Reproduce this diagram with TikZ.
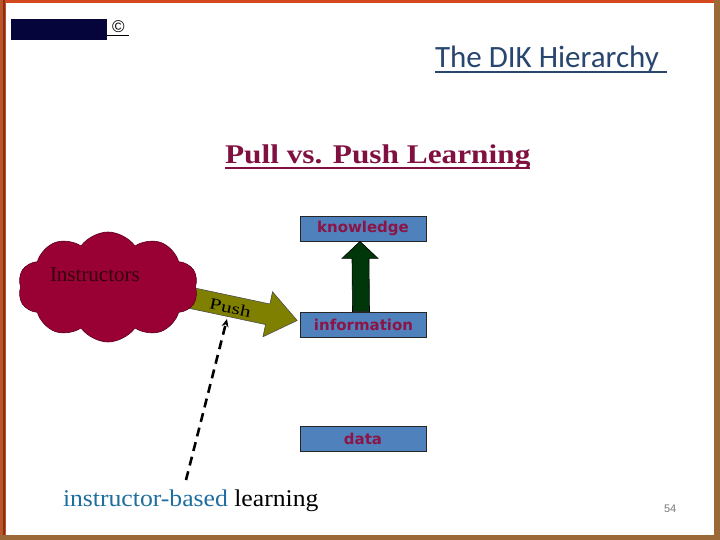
\documentclass[tikz,border=0pt]{standalone}
\usepackage{fontspec}
\setmainfont{Liberation Serif}
\newfontfamily\titlefont{Carlito}
\newfontfamily\boxfont{DejaVu Sans}
\newfontfamily\numfont{Liberation Sans}
\newfontfamily\pullfont{Liberation Serif}[FakeStretch=1.16]
\newfontfamily\ibfont{Liberation Serif}[FakeStretch=1.07]
\newfontfamily\pushfont{Liberation Serif}[FakeStretch=1.35]
\usetikzlibrary{shapes.symbols,arrows.meta,calc}
\definecolor{leftband}{RGB}{182,88,42}
\definecolor{leftline}{RGB}{150,40,20}
\definecolor{topband}{RGB}{212,72,30}
\definecolor{rbband}{RGB}{155,105,55}
\definecolor{navybox}{RGB}{5,5,60}
\definecolor{titleblue}{RGB}{40,70,110}
\definecolor{pullred}{RGB}{128,16,64}
\definecolor{boxblue}{RGB}{79,129,189}
\definecolor{boxtext}{RGB}{140,20,70}
\definecolor{greenarr}{RGB}{0,55,10}
\definecolor{olivearr}{RGB}{128,128,0}
\definecolor{cloudred}{RGB}{153,0,51}
\definecolor{instrtext}{RGB}{50,0,15}
\definecolor{ibblue}{RGB}{31,110,160}
\definecolor{numgray}{RGB}{120,120,120}
\tikzset{
  dikbox/.style={draw=black!85, line width=0.8pt, fill=boxblue, minimum width=126pt, minimum height=25pt, inner sep=0pt,
    font=\boxfont\bfseries\fontsize{15}{17}\selectfont, text=boxtext},
  plain/.style={inner sep=0pt, outer sep=0pt},
}
\begin{document}
\begin{tikzpicture}[x=1pt,y=-1pt]
\useasboundingbox (0,0) rectangle (720,540);
% frame
\fill[white] (0,0) rectangle (720,540);
\fill[topband] (0,0) rectangle (714,3);
\fill[rbband] (714,0) rectangle (720,540);
\fill[rbband] (0,535) rectangle (720,540);
\fill[leftband] (0,0) rectangle (6,535);
\fill[leftline] (3,0) rectangle (4.5,535);

% logo block
\node[plain, fill=navybox, minimum width=96pt, minimum height=21pt] (logo) at (59,29.5) {};
\node[plain, anchor=base west, font=\numfont\fontsize{17}{19}\selectfont] (copy) at (112,33) {©};
\draw[line width=1.3pt] (logo.east |- 0,35.5) -- ($(copy.east |- 0,35.5)+(4,0)$);

% title
\node[plain, anchor=base west, text=titleblue, font=\titlefont\fontsize{31}{36}\selectfont] (title) at (435,68) {The DIK Hierarchy};
\draw[titleblue, line width=2pt] ($(title.base west)+(0,4)$) -- ($(title.base east)+(8,4)$);

% subtitle
\node[plain, anchor=base west, text=pullred, font=\pullfont\bfseries\fontsize{27}{30}\selectfont] (pull) at (225,164) {Pull vs. Push Learning};
\draw[pullred, line width=2pt] ($(pull.base west)+(0,4)$) -- ($(pull.base east)+(0,4)$);

% boxes
\node[dikbox] (know) at (363,228.5) {knowledge};
\node[dikbox] (info) at (363.5,324.5) {information};
\node[dikbox] (data) at (363,438.5) {data};

% green arrow information -> knowledge
\filldraw[fill=greenarr, draw=black, line width=0.6pt]
  ($(info.north)+(-11,0)$) -- ($(know.south)+(-11,17)$) -- ($(know.south)+(-21,17)$) --
  ($(know.south)+(-3,0)$) -- ($(know.south)+(15,17)$) -- ($(know.south)+(6,17)$) --
  ($(info.north)+(6,0)$) -- cycle;

% push arrow
\coordinate (pushtip) at ($(info.west)+(-3,-4)$);
\begin{scope}[shift={(pushtip)}, rotate=-12]
  \filldraw[fill=olivearr, draw=black!70, line width=0.6pt]
    (0,0) -- (-30,-23) -- (-30,-10.5) -- (-135,-10.5) -- (-135,10.5) -- (-30,10.5) -- (-30,23) -- cycle;
  \coordinate (pushlblpos) at (-68,1.5);
\end{scope}
\node[plain, text=black, font=\pushfont\fontsize{16}{18}\selectfont, rotate=-12] (pushlbl) at (pushlblpos) {Push};

% dashed arrow
\coordinate (dashstart) at (186,480);
\coordinate (dashend) at (227,319);
\draw[line width=2.6pt, dash pattern=on 9pt off 6pt, -{Stealth[length=8pt,width=7pt]}] (dashstart) -- (dashend);

% cloud
\node[cloud, cloud puffs=10, cloud puff arc=110, cloud ignores aspect, minimum width=180pt, minimum height=110pt,
      fill=cloudred, draw=cloudred!60!black, line width=0.6pt, inner sep=0pt] (instr) at (108,287) {};
\node[plain, anchor=base west, text=instrtext, font=\fontsize{21}{24}\selectfont] (instrlbl) at (50,281) {Instructors};

% bottom label
\node[plain, anchor=base west, font=\ibfont\fontsize{24}{28}\selectfont] (iblbl) at (63,506) {\textcolor{ibblue}{instructor-based} learning};

% page number
\node[plain, anchor=base west, text=numgray, font=\numfont\fontsize{11}{13}\selectfont] (pgnum) at (664,512) {54};
\end{tikzpicture}
\end{document}
